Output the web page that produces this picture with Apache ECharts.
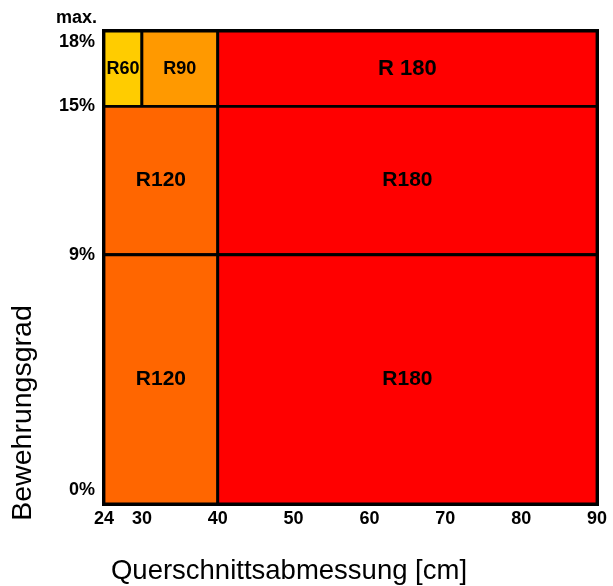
<!DOCTYPE html>
<html><head><meta charset="utf-8">
<script src="https://cdn.jsdelivr.net/npm/echarts@6/dist/echarts.min.js"></script>
<style>html,body{margin:0;padding:0;background:#fff}#c{width:613px;height:586px}</style>
</head><body><div id="c"></div>
<script>
// ---- data ----
const xTicks = [24, 30, 40, 50, 60, 70, 80, 90];
const yTicks = [0, 9, 15, 18];
const zoneLabels = ['R60', 'R90', 'R 180', 'R120', 'R180', 'R120', 'R180'];
const zoneClass  = ['R60', 'R90', 'R180', 'R120', 'R180', 'R120', 'R180'];
const zoneX0 = [24, 30, 40, 24, 40, 24, 40];
const zoneX1 = [30, 40, 90, 40, 90, 40, 90];
const zoneY0 = [15, 15, 15, 9, 9, 0, 0];
const zoneY1 = [18, 18, 18, 15, 15, 9, 9];
const xTitle = 'Querschnittsabmessung [cm]';
const yTitle = 'Bewehrungsgrad';
const yTop = 'max.';

// ---- styles ----
const classColors = { R60: '#FFCC00', R90: '#FF9900', R120: '#FF6600', R180: '#FF0000' };
const zoneFont = { R60: 18, R90: 18 };
const FONT = '"Liberation Sans", Arial, sans-serif';

const chart = echarts.init(document.getElementById('c'), null, { renderer: 'canvas' });
const data = zoneX0.map((x, i) => [x, zoneX1[i], zoneY0[i], zoneY1[i]]);

const lblStyle = { fontFamily: FONT, fontWeight: 'bold', fontSize: 18, color: '#000' };

chart.setOption({
  animation: false,
  grid: { left: 104, right: 16, top: 31, bottom: 82, containLabel: false, outerBoundsMode: 'none',
          show: true, borderColor: '#000', borderWidth: 4, backgroundColor: 'transparent' },
  xAxis: {
    type: 'value', min: 24, max: 90,
    breaks: [{ start: 26, end: 27, gap: 0 }],
    breakArea: { show: false },
    axisLine: { show: false }, axisTick: { show: false }, splitLine: { show: false },
    axisLabel: Object.assign({ customValues: xTicks, margin: 6 }, lblStyle)
  },
  yAxis: {
    type: 'value', min: 0, max: 18,
    breaks: [{ start: 12, end: 12.64, gap: 0 }, { start: 16.5, end: 16.78, gap: 0 }],
    breakArea: { show: false },
    name: yTop, nameLocation: 'end', nameGap: 4,
    nameTextStyle: Object.assign({ align: 'right', padding: [0, 7, 0, 0] }, lblStyle),
    axisLine: { show: false }, axisTick: { show: false }, splitLine: { show: false },
    axisLabel: Object.assign({
      customValues: yTicks, margin: 9,
      formatter: v => v === 0 ? '{lo|0%}' : (v === 18 ? '{hi|18%}' : '{n|' + v + '%}'),
      rich: {
        lo: Object.assign({ padding: [0, 0, 28, 0] }, lblStyle),
        hi: Object.assign({ padding: [22, 0, 0, 0] }, lblStyle),
        n: Object.assign({}, lblStyle)
      }
    }, lblStyle)
  },
  graphic: [
    { type: 'text', x: 289, y: 571, style: { text: xTitle, font: '27.5px ' + FONT, fill: '#000', textAlign: 'center', textVerticalAlign: 'middle' } },
    { type: 'text', x: 23, y: 413, rotation: Math.PI / 2, style: { text: yTitle, font: '28.5px ' + FONT, fill: '#000', textAlign: 'center', textVerticalAlign: 'middle' } }
  ],
  series: [{
    type: 'custom',
    encode: { x: [0, 1], y: [2, 3] },
    data: data,
    renderItem: function (params, api) {
      const i = params.dataIndex;
      const p0 = api.coord([api.value(0), api.value(3)]);
      const p1 = api.coord([api.value(1), api.value(2)]);
      const fs = zoneFont[zoneLabels[i]] || (zoneY1[i] === 18 ? 22 : 21);
      return {
        type: 'rect',
        shape: { x: p0[0], y: p0[1], width: p1[0] - p0[0], height: p1[1] - p0[1] },
        style: { fill: classColors[zoneClass[i]], stroke: '#000', lineWidth: 2.8 },
        textContent: { style: { text: zoneLabels[i], font: 'bold ' + fs + 'px ' + FONT, fill: '#000' } },
        textConfig: { position: 'inside' }
      };
    }
  }]
});
</script>
</body></html>
